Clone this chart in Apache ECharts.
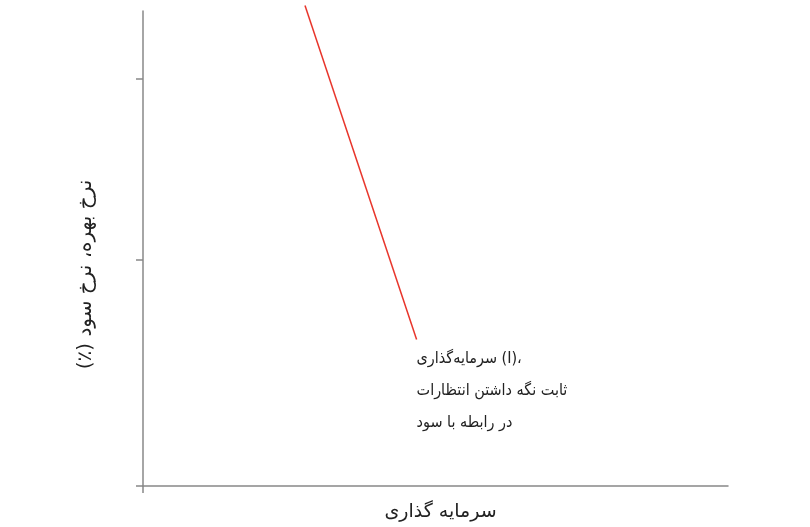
<!DOCTYPE html>
<html>
<head>
<meta charset="utf-8">
<script src="https://cdn.jsdelivr.net/npm/echarts@6/dist/echarts.min.js"></script>
<style>
html,body{margin:0;padding:0;background:#fff;}
#chart{width:810px;height:527px;}
</style>
</head>
<body>
<div id="chart"></div>
<script>
// Data (arbitrary units)
const investmentLine = [[3.6, 10.62], [6.08, 3.24]];
const yTickValues = [0, 5, 9];
const xTickValues = [0];
const xAxisName = 'سرمایه گذاری';
const yAxisName = 'نرخ بهره، نرخ سود (٪)';
const curveLabel = ['سرمایه‌گذاری (I)،', 'ثابت نگه داشتن انتظارات', 'در رابطه با سود'];

const FONT = 'DejaVu Sans';
const FONT_C = 'DejaVu Sans Condensed';
const chart = echarts.init(document.getElementById('chart'), null, {renderer: 'canvas'});
chart.setOption({
  animation: false,
  backgroundColor: '#fff',
  grid: {left: 143, right: 82, top: 11, bottom: 38},
  xAxis: {
    type: 'value', min: 0, max: 13,
    name: xAxisName, nameLocation: 'middle', nameGap: 17,
    nameTextStyle: {fontFamily: FONT, fontSize: 19, color: '#222', padding: [0, 0, 0, 10]},
    axisLine: {show: true, lineStyle: {color: '#888', width: 1.5}},
    axisTick: {show: true, customValues: xTickValues, length: 7, lineStyle: {color: '#888', width: 1.5}},
    axisLabel: {show: false},
    splitLine: {show: false}
  },
  yAxis: {
    type: 'value', min: 0, max: 10.5,
    name: '\u202B' + yAxisName + '\u202C', nameLocation: 'middle', nameGap: 47, nameRotate: 90,
    nameTextStyle: {fontFamily: FONT, fontSize: 20, color: '#222', padding: [0, 52, 0, 0]},
    axisLine: {show: true, lineStyle: {color: '#888', width: 1.5}},
    axisTick: {show: true, customValues: yTickValues, length: 7, lineStyle: {color: '#888', width: 1.5}},
    axisLabel: {show: false},
    splitLine: {show: false}
  },
  series: [{
    type: 'line',
    data: investmentLine,
    clip: false,
    showSymbol: false,
    lineStyle: {color: '#e8352b', width: 1.5},
    endLabel: {
      show: true,
      formatter: curveLabel.join('\n'),
      fontFamily: FONT_C, fontSize: 16, lineHeight: 32, color: '#222',
      align: 'left', verticalAlign: 'top', offset: [0, 3], distance: 0
    }
  }]
});
</script>
</body>
</html>
